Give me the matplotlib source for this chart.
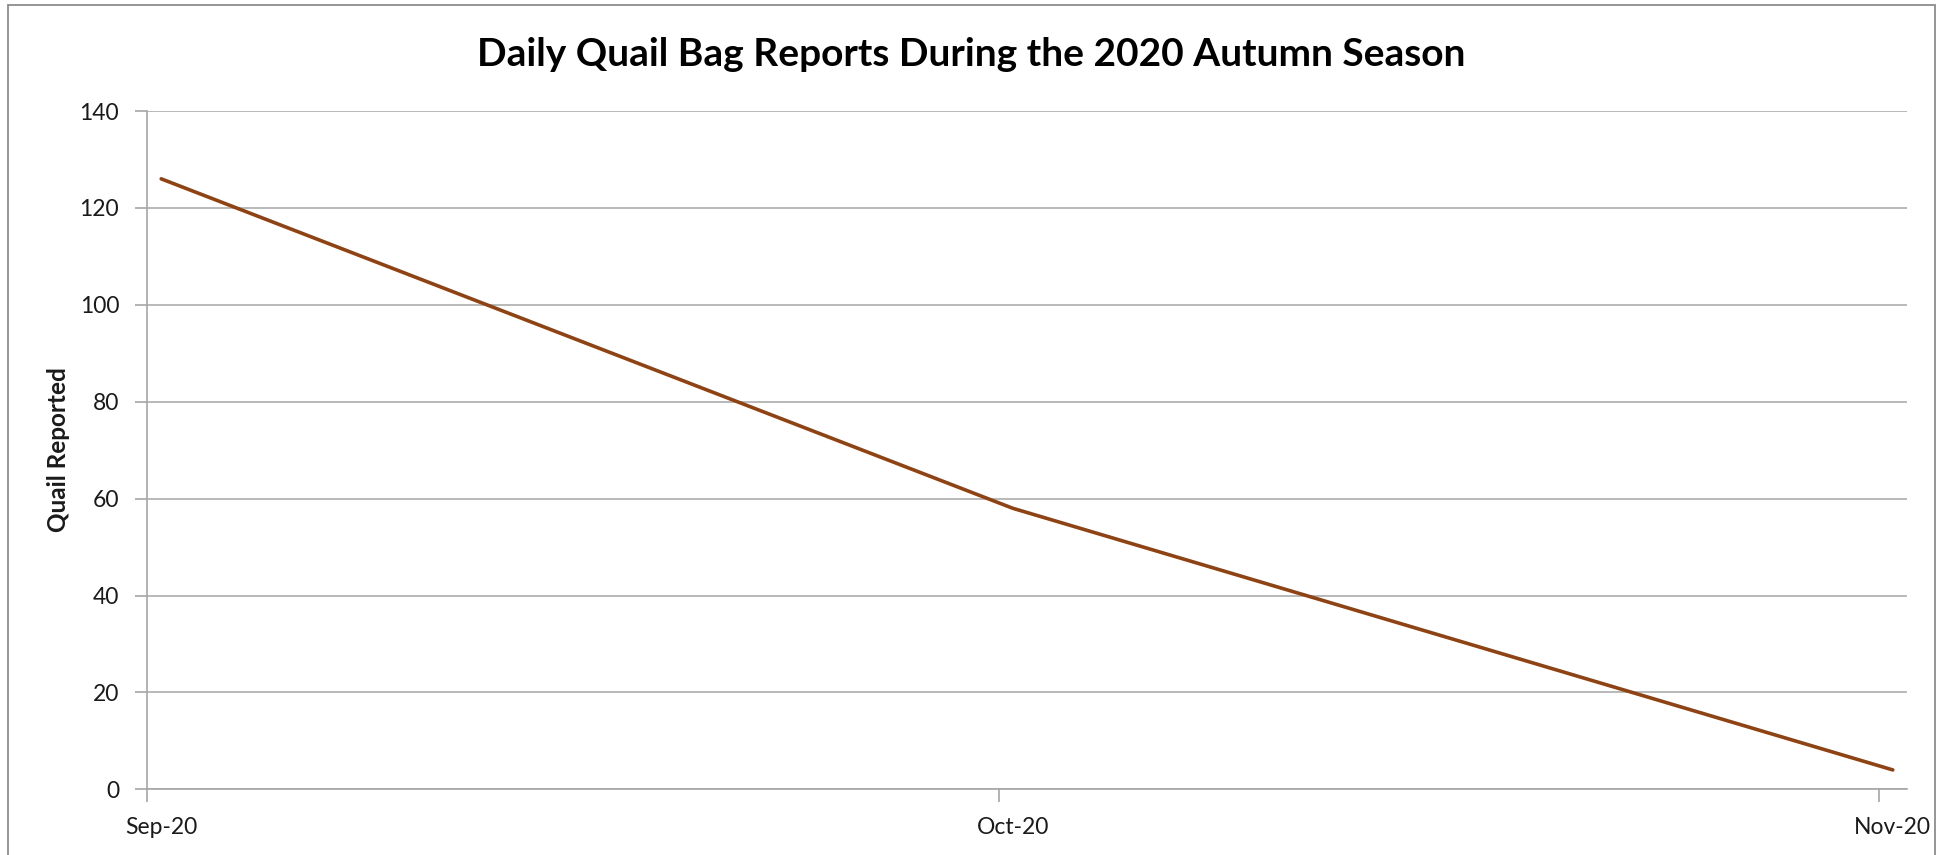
import numpy as np
import matplotlib
matplotlib.use("Agg")
import matplotlib.pyplot as plt
import matplotlib.dates as mdates
from matplotlib.patches import Rectangle

# Season report data: one reading per month start
report_dates = np.array(["2020-09-01", "2020-10-01", "2020-11-01"], dtype="datetime64[D]")
quail_reported = [126, 58, 4]
month_labels = ["Sep-20", "Oct-20", "Nov-20"]

LINE_COLOUR = "#8E4315"
GRID_COLOUR = "#a6a6a6"
TEXT_COLOUR = "#1a1a1a"

plt.rcParams["font.family"] = ["Lato", "DejaVu Sans"]

fig = plt.figure(figsize=(19.51, 8.55), dpi=100)
ax = fig.add_axes([147 / 1951, 1 - 789.3 / 855, (1907 - 147) / 1951, (789.3 - 111) / 855])

# each day occupies a slot; points sit in the middle of their day
day_start = mdates.date2num(report_dates.astype("datetime64[s]").astype(object))
day_mid = day_start + 0.5
ax.plot(day_mid, quail_reported, color=LINE_COLOUR, linewidth=2.6, solid_capstyle="round")

ax.set_xlim(day_start[0], day_start[-1] + 1)
ax.set_ylim(0, 140)
ax.set_yticks(np.arange(0, 141, 20))

# labels centred on the day, tick marks on the day boundary
ax.set_xticks(day_mid, month_labels)
ax.set_xticks(day_start, minor=True)
ax.tick_params(axis="x", which="major", length=0, pad=20, labelsize=16.5, labelcolor=TEXT_COLOUR)
ax.tick_params(axis="x", which="minor", length=9, width=1.2, color=GRID_COLOUR)
ax.tick_params(axis="y", length=9, width=1.2, color=GRID_COLOUR, pad=11, labelsize=16.5,
               labelcolor=TEXT_COLOUR)

ax.grid(axis="y", color=GRID_COLOUR, linewidth=1.1)
ax.set_axisbelow(True)
for side in ["top", "right"]:
    ax.spines[side].set_visible(False)
for side in ["left", "bottom"]:
    ax.spines[side].set_color(GRID_COLOUR)
    ax.spines[side].set_linewidth(1.2)

fig.text(58 / 1951, 1 - 450 / 855, "Quail Reported", rotation=90, ha="center", va="center",
         fontsize=17.5, fontweight="bold", color=TEXT_COLOUR)
fig.text(971 / 1951, 1 - 55 / 855, "Daily Quail Bag Reports During the 2020 Autumn Season",
         ha="center", va="center", fontsize=28, fontweight="bold", color="black")

# chart frame
fig.patches.append(Rectangle((8 / 1951, -0.05), (1935 - 8) / 1951, 1.05 - 5 / 855,
                             transform=fig.transFigure, fill=False, edgecolor="#8c8c8c",
                             linewidth=1.3))

fig.savefig("out.png", dpi=100, facecolor="white")
